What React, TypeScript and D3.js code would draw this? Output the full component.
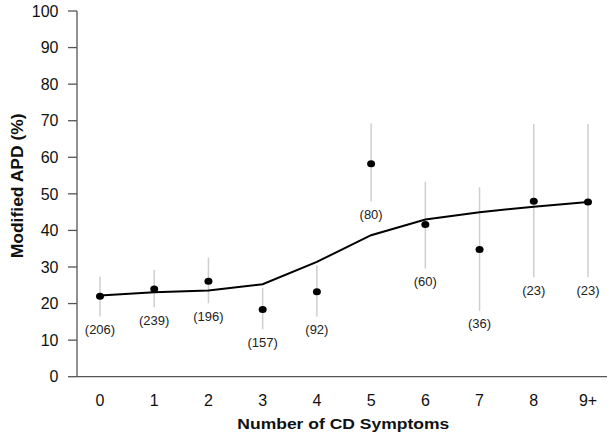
import React from "react";
import * as d3 from "d3";

const categories = ["0", "1", "2", "3", "4", "5", "6", "7", "8", "9+"];
const observed = [22.0, 24.0, 26.1, 18.4, 23.2, 58.2, 41.6, 34.8, 48.0, 47.8];
const ciLower = [16.5, 19.0, 20.1, 13.0, 16.4, 47.9, 29.6, 18.0, 27.2, 27.2];
const ciUpper = [27.3, 29.2, 32.6, 24.2, 30.5, 69.3, 53.3, 51.8, 69.1, 69.1];
const fitted = [22.2, 23.1, 23.6, 25.3, 31.4, 38.7, 43.0, 45.0, 46.5, 47.8];
const counts = ["(206)", "(239)", "(196)", "(157)", "(92)", "(80)", "(60)", "(36)", "(23)", "(23)"];
const yTicks = [0, 10, 20, 30, 40, 50, 60, 70, 80, 90, 100];

const W = 615;
const H = 441;
const FONT = "Arial, 'Liberation Sans', Helvetica, sans-serif";

export default function App() {
  const x = d3.scalePoint<string>().domain(categories).range([100, 588]);
  const y = d3.scaleLinear().domain([0, 100]).range([376.7, 11]);
  const axisLeft = 77;
  const axisRight = 607;
  const line = d3
    .line<number>()
    .x((_, i) => x(categories[i]) as number)
    .y((d) => y(d));

  return (
    <svg
      width={W}
      height={H}
      style={{ position: "absolute", left: 0, top: 0, background: "#fff" }}
      fontFamily={FONT}
    >
      {/* error bars */}
      {categories.map((c, i) => (
        <line
          key={"eb" + c}
          x1={x(c)}
          x2={x(c)}
          y1={y(ciUpper[i])}
          y2={y(ciLower[i])}
          stroke="#cfcfcf"
          strokeWidth={1.5}
        />
      ))}
      {/* fitted line */}
      <path d={line(fitted) || ""} fill="none" stroke="#000" strokeWidth={2} />
      {/* points */}
      {categories.map((c, i) => (
        <ellipse
          key={"pt" + c}
          cx={x(c)}
          cy={y(observed[i])}
          rx={4}
          ry={3.5}
          fill="#000"
        />
      ))}
      {/* count labels */}
      {categories.map((c, i) => (
        <text
          key={"lb" + c}
          x={x(c)}
          y={y(ciLower[i]) + 13}
          dy="0.35em"
          textAnchor="middle"
          fontSize={13}
          fill="#222"
        >
          {counts[i]}
        </text>
      ))}
      {/* axes */}
      <line x1={axisLeft} x2={axisLeft} y1={y(100)} y2={y(0)} stroke="#555" strokeWidth={1.3} />
      <line x1={axisLeft} x2={axisRight} y1={y(0)} y2={y(0)} stroke="#555" strokeWidth={1.3} />
      {yTicks.map((t) => (
        <g key={"yt" + t}>
          <line x1={axisLeft - 9} x2={axisLeft} y1={y(t)} y2={y(t)} stroke="#555" strokeWidth={1.3} />
          <text
            x={58.5}
            y={y(t)}
            dy="0.36em"
            textAnchor="end"
            fontSize={16}
            fill="#111"
          >
            {t}
          </text>
        </g>
      ))}
      {categories.map((c) => (
        <text
          key={"xt" + c}
          x={x(c)}
          y={406}
          textAnchor="middle"
          fontSize={16}
          fill="#111"
        >
          {c}
        </text>
      ))}
      <text
        x={343.3}
        y={429}
        textAnchor="middle"
        fontSize={15.5}
        fontWeight="bold"
        fill="#111"
        textLength={212}
        lengthAdjust="spacingAndGlyphs"
      >
        Number of CD Symptoms
      </text>
      <text
        transform={`translate(22.5, 185.8) rotate(-90)`}
        textAnchor="middle"
        fontSize={16}
        fontWeight="bold"
        fill="#111"
        textLength={145}
        lengthAdjust="spacingAndGlyphs"
      >
        Modified APD (%)
      </text>
    </svg>
  );
}
